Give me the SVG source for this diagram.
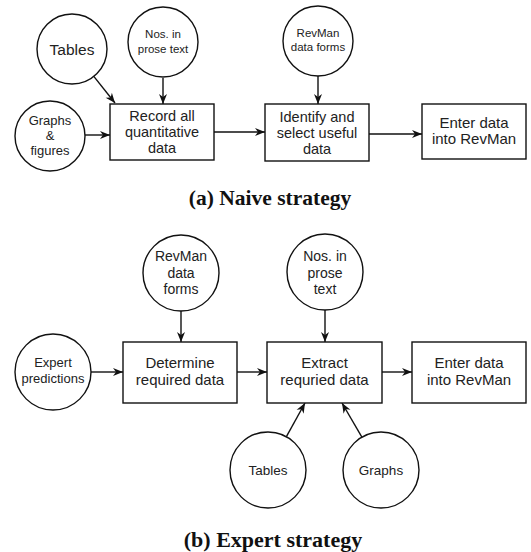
<svg xmlns="http://www.w3.org/2000/svg" width="531" height="552" viewBox="0 0 531 552">
<defs>
<marker id="ah" viewBox="-11 -5 12 10" refX="0" refY="0" markerWidth="12" markerHeight="10" markerUnits="userSpaceOnUse" orient="auto">
<path d="M0,0 L-10,-4 L-7,0 L-10,4 Z" fill="#111"/>
</marker>
<style>
.n{fill:#fff;stroke:#111;stroke-width:1.4}
.t{font-family:"Liberation Sans",Arial,sans-serif;fill:#222;text-anchor:middle}
.c{stroke:#111;stroke-width:1.4;fill:none;marker-end:url(#ah)}
.cap{font-family:"Liberation Serif","Times New Roman",serif;font-weight:bold;fill:#111;text-anchor:middle}
</style>
</defs>
<rect width="531" height="552" fill="#fff"/>

<g id="connectors">
<line class="c" x1="93.8" y1="76.4" x2="115" y2="103"/>
<line class="c" x1="163" y1="78" x2="163" y2="104"/>
<line class="c" x1="85" y1="135" x2="110" y2="135"/>
<line class="c" x1="214" y1="132" x2="265" y2="132"/>
<line class="c" x1="318" y1="76" x2="318" y2="104"/>
<line class="c" x1="369" y1="134" x2="422" y2="134"/>
<line class="c" x1="181" y1="311" x2="181" y2="342"/>
<line class="c" x1="91" y1="372" x2="123" y2="372"/>
<line class="c" x1="237" y1="372" x2="267" y2="372"/>
<line class="c" x1="325" y1="310" x2="325" y2="342"/>
<line class="c" x1="382" y1="372" x2="412" y2="372"/>
<line class="c" x1="286.4" y1="436.7" x2="305" y2="403"/>
<line class="c" x1="361.9" y1="437.2" x2="342" y2="403"/>
</g>

<g id="a-tables"><circle class="n" cx="72" cy="49" r="35"/><text class="t" x="72" y="55" font-size="15.5">Tables</text></g>
<g id="a-nos"><circle class="n" cx="163" cy="42" r="35"/><text class="t" x="163" y="38" font-size="11.5">Nos. in</text><text class="t" x="163" y="53" font-size="11.5">prose text</text></g>
<g id="a-graphs"><circle class="n" cx="50" cy="136" r="35"/><text class="t" x="50" y="125" font-size="13">Graphs</text><text class="t" x="50" y="140" font-size="13">&amp;</text><text class="t" x="50" y="155" font-size="13">figures</text></g>
<g id="a-record"><rect class="n" x="110" y="104" width="104" height="56"/><text class="t" x="162" y="121" font-size="14.5">Record all</text><text class="t" x="162" y="137" font-size="14.5">quantitative</text><text class="t" x="162" y="153" font-size="14.5">data</text></g>
<g id="a-revman"><circle class="n" cx="318" cy="41" r="35"/><text class="t" x="318" y="37" font-size="11.5">RevMan</text><text class="t" x="318" y="51" font-size="11.5">data forms</text></g>
<g id="a-identify"><rect class="n" x="265" y="104" width="104" height="57"/><text class="t" x="317" y="122" font-size="14.5">Identify and</text><text class="t" x="317" y="138" font-size="14.5">select useful</text><text class="t" x="317" y="154" font-size="14.5">data</text></g>
<g id="a-enter"><rect class="n" x="422" y="104" width="104" height="55"/><text class="t" x="474" y="128" font-size="15">Enter data</text><text class="t" x="474" y="144" font-size="15">into RevMan</text></g>
<text class="cap" x="270" y="205" font-size="21.5">(a) Naive strategy</text>

<g id="b-revman"><circle class="n" cx="181" cy="273" r="38"/><text class="t" x="181" y="261" font-size="14">RevMan</text><text class="t" x="181" y="278" font-size="14">data</text><text class="t" x="181" y="294" font-size="14">forms</text></g>
<g id="b-nos"><circle class="n" cx="325" cy="272" r="38"/><text class="t" x="325" y="261" font-size="14">Nos. in</text><text class="t" x="325" y="278" font-size="14">prose</text><text class="t" x="325" y="294" font-size="14">text</text></g>
<g id="b-expert"><circle class="n" cx="53" cy="372" r="38"/><text class="t" x="53" y="367" font-size="13">Expert</text><text class="t" x="53" y="383" font-size="13">predictions</text></g>
<g id="b-determine"><rect class="n" x="123" y="342" width="114" height="61"/><text class="t" x="180" y="368" font-size="15">Determine</text><text class="t" x="180" y="385" font-size="15">required data</text></g>
<g id="b-extract"><rect class="n" x="267" y="342" width="115" height="61"/><text class="t" x="324.5" y="368" font-size="15">Extract</text><text class="t" x="324.5" y="385" font-size="15">requried data</text></g>
<g id="b-enter"><rect class="n" x="412" y="342" width="114" height="61"/><text class="t" x="469" y="368" font-size="15">Enter data</text><text class="t" x="469" y="385" font-size="15">into RevMan</text></g>
<g id="b-tables"><circle class="n" cx="268" cy="470" r="38"/><text class="t" x="268" y="475" font-size="13.5">Tables</text></g>
<g id="b-graphs"><circle class="n" cx="381" cy="470" r="38"/><text class="t" x="381" y="475" font-size="13.5">Graphs</text></g>
<text class="cap" x="273" y="547" font-size="22">(b) Expert strategy</text>
</svg>
